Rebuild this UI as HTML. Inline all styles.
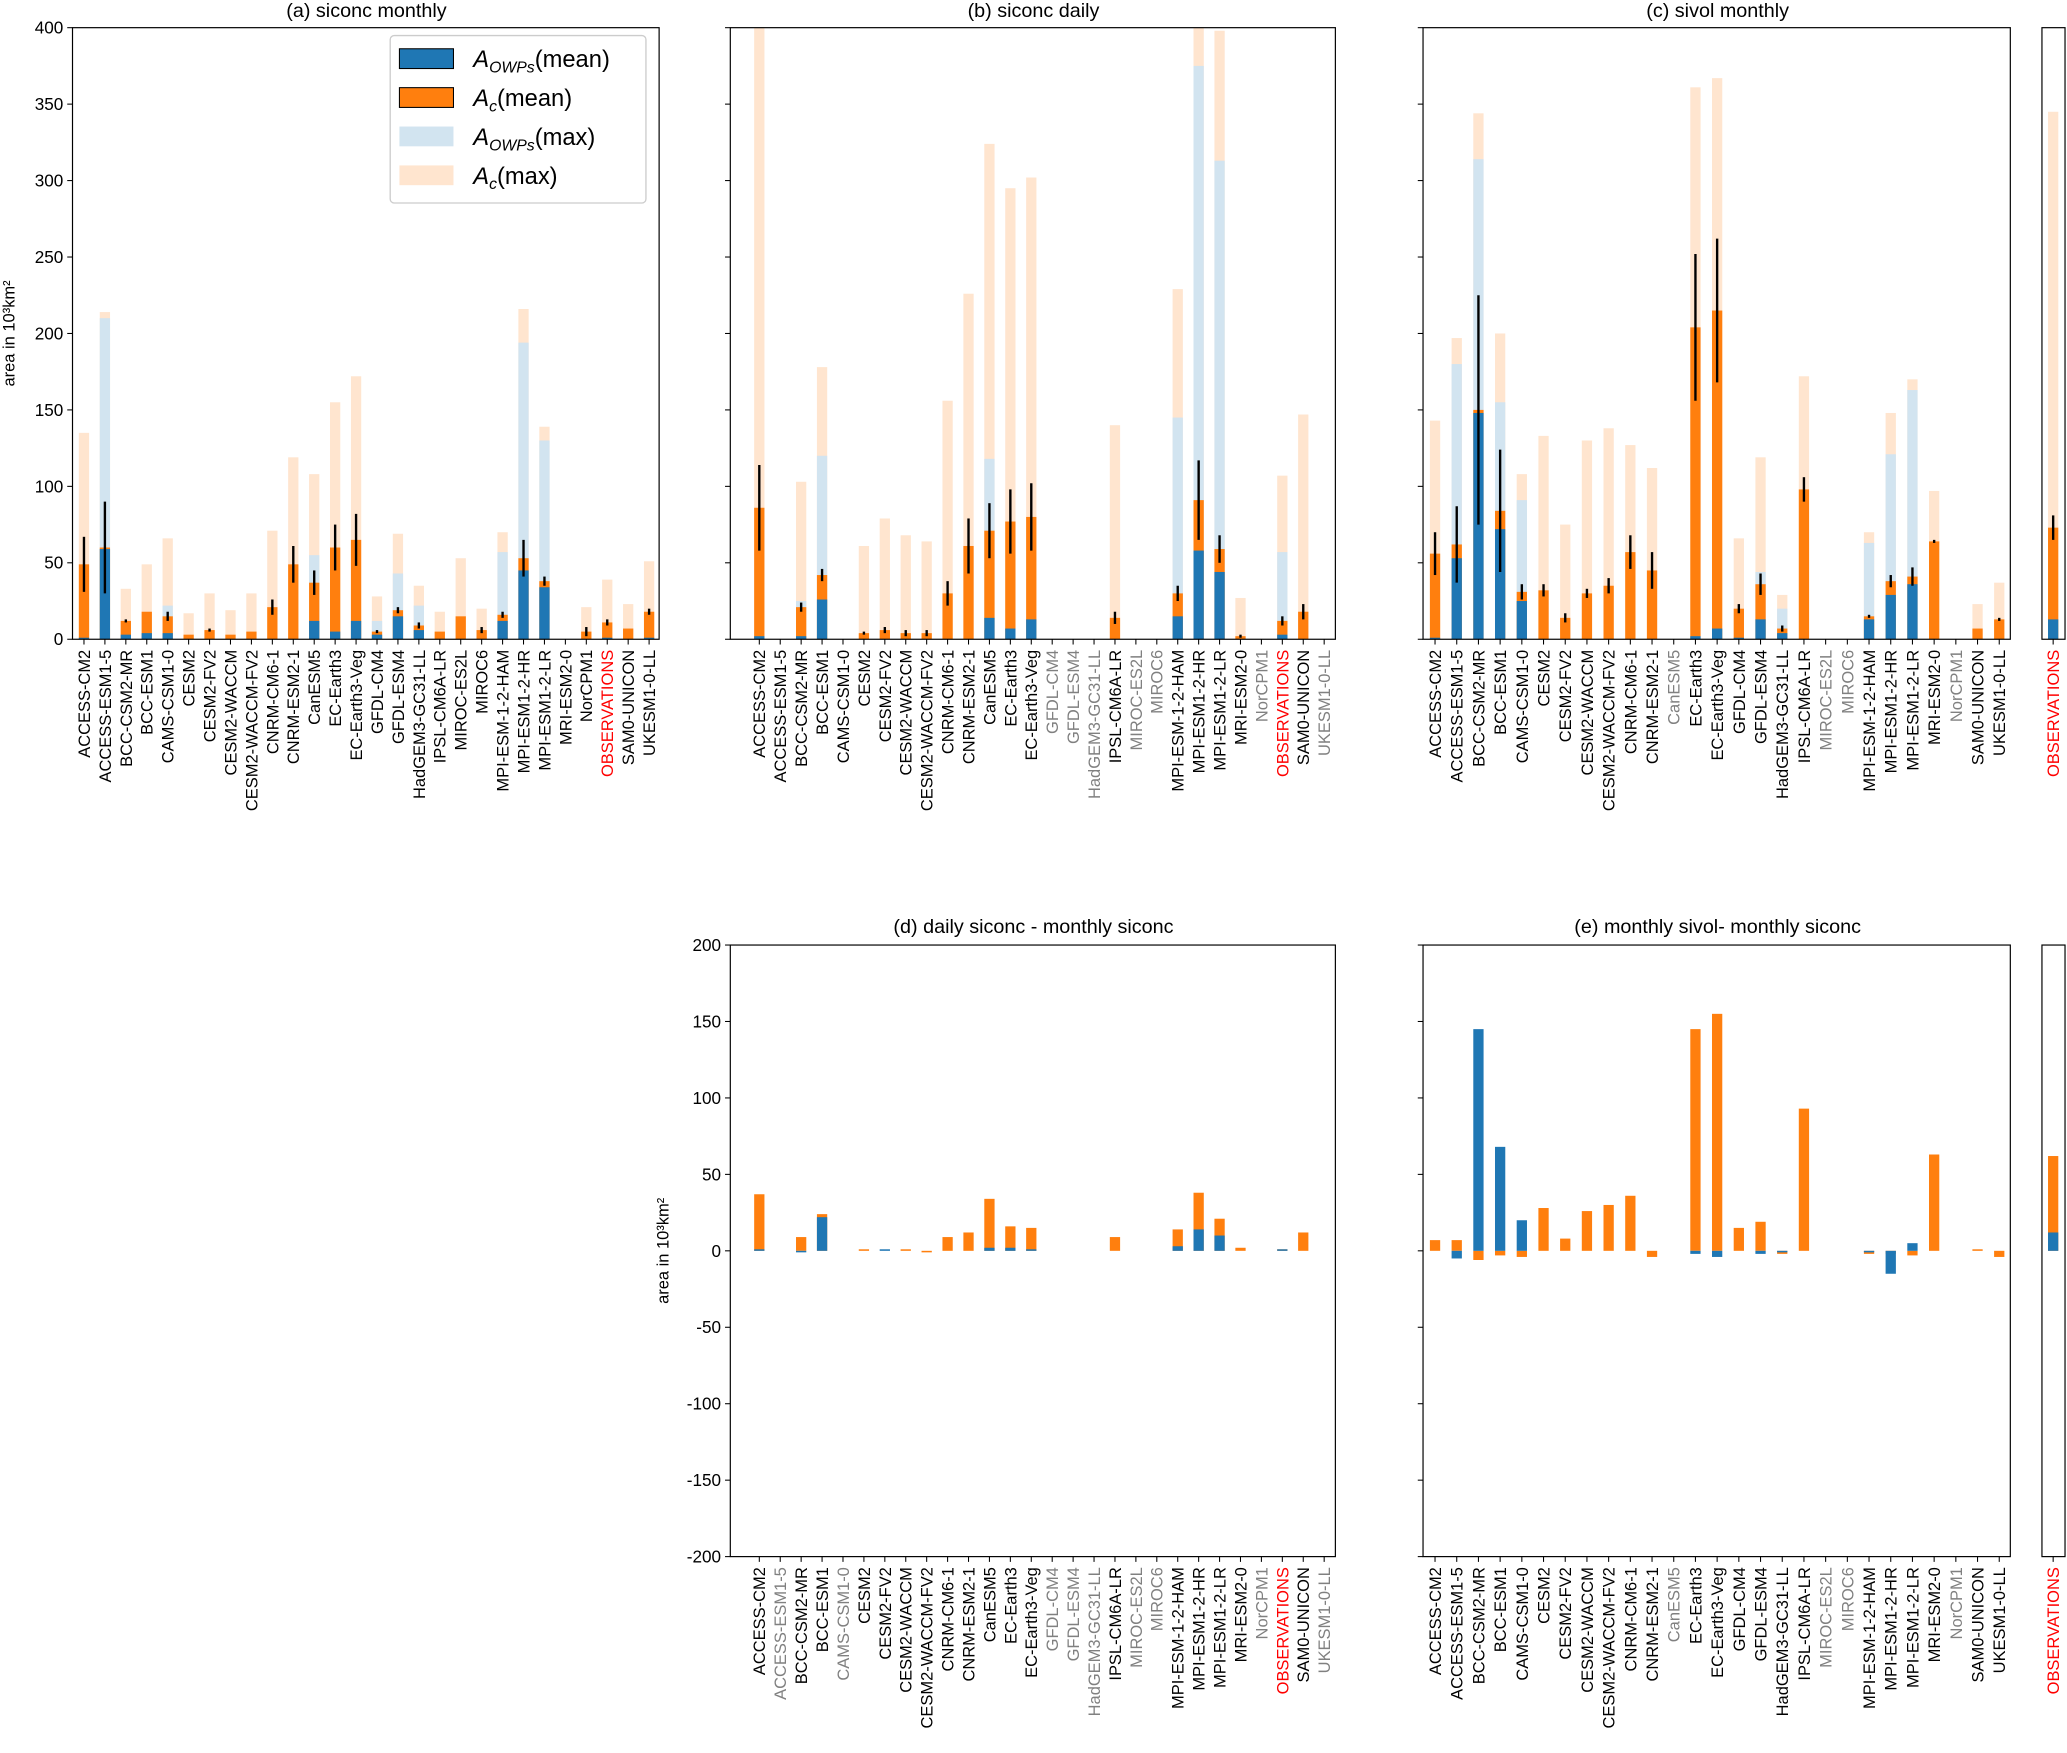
<!DOCTYPE html>
<html><head><meta charset="utf-8"><style>
html,body{margin:0;padding:0;background:#fff}
svg{display:block}
text{font-family:"Liberation Sans","DejaVu Sans",sans-serif}
</style></head><body>
<svg id="fig" width="2067" height="1753" viewBox="0 0 1568 1330" preserveAspectRatio="none" xmlns="http://www.w3.org/2000/svg">
<rect x="0" y="0" width="1568" height="1330" fill="#fff"/>
</svg>
<script>
// ---- data ----
const modelsAll = ["ACCESS-CM2","ACCESS-ESM1-5","BCC-CSM2-MR","BCC-ESM1","CAMS-CSM1-0","CESM2","CESM2-FV2","CESM2-WACCM","CESM2-WACCM-FV2","CNRM-CM6-1","CNRM-ESM2-1","CanESM5","EC-Earth3","EC-Earth3-Veg","GFDL-CM4","GFDL-ESM4","HadGEM3-GC31-LL","IPSL-CM6A-LR","MIROC-ES2L","MIROC6","MPI-ESM-1-2-HAM","MPI-ESM1-2-HR","MPI-ESM1-2-LR","MRI-ESM2-0","NorCPM1","OBSERVATIONS","SAM0-UNICON","UKESM1-0-LL"];
const modelsNoObs = modelsAll.filter(m => m !== "OBSERVATIONS");
const greyB = ["GFDL-CM4","GFDL-ESM4","HadGEM3-GC31-LL","MIROC-ES2L","MIROC6","NorCPM1","UKESM1-0-LL"];
const greyC = ["CanESM5","MIROC-ES2L","MIROC6","NorCPM1"];
const greyD = ["ACCESS-ESM1-5","CAMS-CSM1-0","GFDL-CM4","GFDL-ESM4","HadGEM3-GC31-LL","MIROC-ES2L","MIROC6","NorCPM1","UKESM1-0-LL"];

// panel a: siconc monthly
const aAcMax  = [135,214,33,49,66,17,30,19,30,71,119,108,155,172,28,69,35,18,53,20,70,216,139,0,21,39,23,51];
const aOwMax  = [0,210,0,0,22,0,0,0,0,0,0,55,0,0,12,43,22,0,0,0,57,194,130,0,0,0,0,0];
const aAcMean = [49,60,12,18,15,3,6,3,5,21,49,37,60,65,5,19,9,5,15,6,16,53,38,0,5,11,7,18];
const aOwMean = [1,59,3,4,4,0,0,0,0,0,0,12,5,12,3,15,6,0,0,0,12,45,34,0,0,1,0,1];
const aErr    = [18,30,1,0,3,0,1,0,0,5,12,8,15,17,1,2,2,0,0,2,2,12,3,0,3,2,0,2];
// panel b: siconc daily
const bAcMax  = [400,0,103,178,0,61,79,68,64,156,226,324,295,302,0,0,0,140,0,0,229,400,398,27,0,107,147,0];
const bOwMax  = [0,0,25,120,0,0,0,0,0,0,0,118,0,0,0,0,0,0,0,0,145,375,313,0,0,57,0,0];
const bAcMean = [86,0,21,42,0,4,6,4,4,30,61,71,77,80,0,0,0,14,0,0,30,91,59,2,0,12,18,0];
const bOwMean = [2,0,2,26,0,0,0,0,0,0,0,14,7,13,0,0,0,0,0,0,15,58,44,0,0,3,0,0];
const bErr    = [28,0,3,4,0,1,2,2,2,8,18,18,21,22,0,0,0,4,0,0,5,26,9,1,0,3,5,0];
// panel c: sivol monthly (no observations)
const cAcMax  = [143,197,344,200,108,133,75,130,138,127,112,0,361,367,66,119,29,172,0,0,70,148,170,97,0,23,37];
const cOwMax  = [0,180,314,155,91,0,0,0,0,0,0,0,0,0,0,44,20,0,0,0,63,121,163,0,0,0,0];
const cAcMean = [56,62,150,84,31,32,14,30,35,57,45,0,204,215,20,36,7,98,0,0,15,38,41,64,0,7,13];
const cOwMean = [1,53,148,72,25,0,0,0,0,0,0,0,2,7,1,13,4,0,0,0,13,29,36,0,0,0,0];
const cErr    = [14,25,75,40,5,4,3,3,5,11,12,0,48,47,3,7,2,8,0,0,1,4,6,1,0,0,1];
// observations side panel (sivol)
const cObsAcMax=[345], cObsOwMax=[0], cObsAcMean=[73], cObsOwMean=[13], cObsErr=[8];
// panel d: daily - monthly siconc
const dAc = [37,0,9,24,0,1,0,1,-1,9,12,34,16,15,0,0,0,9,0,0,14,38,21,2,0,1,12,0];
const dOw = [1,0,-1,22,0,0,1,0,0,0,0,2,2,1,0,0,0,0,0,0,3,14,10,0,0,1,0,0];
// panel e: monthly sivol - monthly siconc
const eAc = [7,7,-6,-3,-4,28,8,26,30,36,-4,0,145,155,15,19,-2,93,0,0,-2,-2,-3,63,0,1,-4];
const eOw = [0,-5,145,68,20,0,0,0,0,0,0,0,-2,-4,0,-2,-1,0,0,0,-1,-15,5,0,0,0,0];
const eObsAc=[62], eObsOw=[12];
const yTicksTop = [0,50,100,150,200,250,300,350,400];
const yTicksBot = [-200,-150,-100,-50,0,50,100,150,200];

// ---- drawing ----
const NS="http://www.w3.org/2000/svg";
const svg=document.getElementById('fig');
const BLUE="#1f77b4", ORANGE="#ff7f0e", LBLUE="#d2e4f0", LORANGE="#ffe5cf";
const BW=7.8;
function el(tag, attrs, parent){const e=document.createElementNS(NS,tag);for(const k in attrs)e.setAttribute(k,attrs[k]);(parent||svg).appendChild(e);return e;}
function mkScaleY(top,bot,lo,hi){return v=>bot-(v-lo)/(hi-lo)*(bot-top);}
function mkScaleX(first,last,n){const s=n>1?(last-first)/(n-1):0;return {c:i=>first+i*s,w:s};}

function axesBox(name,x0,x1,top,bot,ticks,sy,showLabels){
  const g=el('g',{});
  
  
  if(ticks){ticks.forEach(t=>{const y=sy(t);
    const tk=el('line',{x1:x0-4,x2:x0,y1:y,y2:y,stroke:'#000','stroke-width':0.8},g);
    
    
    if(showLabels){const tx=el('text',{x:x0-7,y:y+4.5,'font-size':13,'text-anchor':'end'},g);tx.textContent=t;
      
      }
  });}
  return g;
}
function frame(x0,x1,top,bot){
  const r=el('rect',{x:x0,y:top,width:x1-x0,height:bot-top,fill:'none',stroke:'#000','stroke-width':0.9});
  
  
}
function xLabels(labels,sx,bot,grey){
  labels.forEach((m,i)=>{const x=sx.c(i);
    const tk=el('line',{x1:x,x2:x,y1:bot,y2:bot+4,stroke:'#000','stroke-width':0.8});
    
    
    const col=m==="OBSERVATIONS"?"#ff0000":(grey.includes(m)?"#808080":"#000");
    const t=el('text',{x:0,y:0,'font-size':12.5,'text-anchor':'end',fill:col,transform:`translate(${x+4.5},${bot+8}) rotate(-90)`});
    t.textContent=m;
    
    
  });
}
function bar(x,w,y0,y1,fill,name){
  const r=el('rect',{x:x-w/2,y:Math.min(y0,y1),width:w,height:Math.abs(y1-y0),fill:fill});
  
  
}
function stackPanel(sx,sy,acMax,owMax,acMean,owMean,err){
  const w=BW;
  acMax.forEach((v,i)=>bar(sx.c(i),w,sy(0),sy(v),LORANGE,'bar-ac-max'));
  owMax.forEach((v,i)=>bar(sx.c(i),w,sy(0),sy(v),LBLUE,'bar-owps-max'));
  acMean.forEach((v,i)=>bar(sx.c(i),w,sy(0),sy(v),ORANGE,'bar-ac-mean'));
  owMean.forEach((v,i)=>bar(sx.c(i),w,sy(0),sy(v),BLUE,'bar-owps-mean'));
  err.forEach((e,i)=>{if(e>0){const x=sx.c(i);
    const l=el('line',{x1:x,x2:x,y1:sy(acMean[i]-e),y2:sy(acMean[i]+e),stroke:'#000','stroke-width':1.8});
    
    }});
}
function diffPanel(sx,sy,ac,ow){
  const w=BW;
  ac.forEach((v,i)=>bar(sx.c(i),w,sy(0),sy(v),ORANGE,'bar-ac-diff'));
  ow.forEach((v,i)=>bar(sx.c(i),w,sy(0),sy(v),BLUE,'bar-owps-diff'));
}
function title(x,y,s){const t=el('text',{x:x,y:y,'font-size':15,'text-anchor':'middle'});t.textContent=s;
  
  }
function ylabel(x,y,s){const t=el('text',{x:0,y:0,'font-size':12.5,'text-anchor':'middle',transform:`translate(${x},${y}) rotate(-90)`});t.textContent=s;
  
  }

const TT=21, TB=485, BT=717, BB=1181;
const syTop=mkScaleY(TT,TB,0,400);
const syBot=mkScaleY(BT,BB,-200,200);
const AX0=55, AX1=500, BX0=554, BX1=1013, CX0=1079.5, CX1=1525, OX0=1549, OX1=1566.5;
const obsX={c:i=>1557.5,w:0};

// (a)
let sx=mkScaleX(63.7,492.4,28);
axesBox('y-axis-a',AX0,AX1,TT,TB,yTicksTop,syTop,true);
stackPanel(sx,syTop,aAcMax,aOwMax,aAcMean,aOwMean,aErr);
frame(AX0,AX1,TT,TB); xLabels(modelsAll,sx,TB,[]);
title(278,13,"(a) siconc monthly"); ylabel(11,253,"area in 10³km²");
// (b)
sx=mkScaleX(576,1004.5,28);
axesBox('y-axis-b',BX0,BX1,TT,TB,yTicksTop,syTop,false);
stackPanel(sx,syTop,bAcMax,bOwMax,bAcMean,bOwMean,bErr);
frame(BX0,BX1,TT,TB); xLabels(modelsAll,sx,TB,greyB);
title(784,13,"(b) siconc daily");
// (c)
sx=mkScaleX(1088.6,1516.6,27);
axesBox('y-axis-c',CX0,CX1,TT,TB,yTicksTop,syTop,false);
stackPanel(sx,syTop,cAcMax,cOwMax,cAcMean,cOwMean,cErr);
frame(CX0,CX1,TT,TB); xLabels(modelsNoObs,sx,TB,greyC);
title(1303,13,"(c) sivol monthly");
stackPanel(obsX,syTop,cObsAcMax,cObsOwMax,cObsAcMean,cObsOwMean,cObsErr);
frame(OX0,OX1,TT,TB); xLabels(["OBSERVATIONS"],obsX,TB,[]);
// (d)
sx=mkScaleX(576,1004.5,28);
axesBox('y-axis-d',BX0,BX1,BT,BB,yTicksBot,syBot,true);
diffPanel(sx,syBot,dAc,dOw);
frame(BX0,BX1,BT,BB); xLabels(modelsAll,sx,BB,greyD);
title(784,708,"(d) daily siconc - monthly siconc"); ylabel(507,949,"area in 10³km²");
// (e)
sx=mkScaleX(1088.6,1516.6,27);
axesBox('y-axis-e',CX0,CX1,BT,BB,yTicksBot,syBot,false);
diffPanel(sx,syBot,eAc,eOw);
frame(CX0,CX1,BT,BB); xLabels(modelsNoObs,sx,BB,greyC);
title(1303,708,"(e) monthly sivol- monthly siconc");
diffPanel(obsX,syBot,eObsAc,eObsOw);
frame(OX0,OX1,BT,BB); xLabels(["OBSERVATIONS"],obsX,BB,[]);

// legend
const lg=el('g',{});


el('rect',{x:296,y:27,width:194,height:127,rx:3,fill:'#fff','fill-opacity':0.85,stroke:'#ccc','stroke-width':1},lg);
const legItems=[[BLUE,"A","OWPs","(mean)"],[ORANGE,"A","c","(mean)"],[LBLUE,"A","OWPs","(max)"],[LORANGE,"A","c","(max)"]];
legItems.forEach((it,i)=>{const y=37+i*29.5;
  const p=el('rect',{x:303,y:y,width:41,height:15,fill:it[0],stroke:(i<2?'#000':'none'),'stroke-width':0.8},lg);
  
  
  const t=el('text',{x:359,y:y+14,'font-size':18},lg);
  
  
  const a=el('tspan',{'font-style':'italic'},t);a.textContent=it[1];
  const s=el('tspan',{'font-style':'italic','font-size':12,dy:4},t);s.textContent=it[2];
  const r=el('tspan',{dy:-4},t);r.textContent=it[3];
});
</script>
</body></html>
